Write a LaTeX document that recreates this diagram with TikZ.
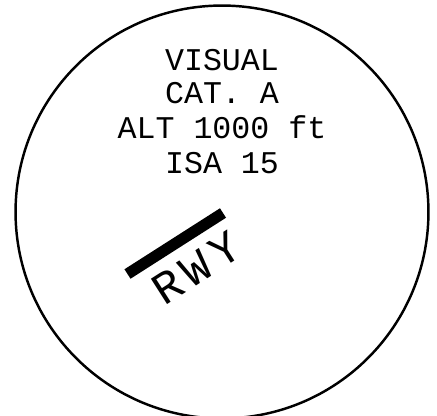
\documentclass[tikz,border=0pt]{standalone}
\usepackage{fontspec}
\setmonofont{Liberation Mono}
\newfontfamily\rwyfont[LetterSpace=14]{Liberation Mono}
\usetikzlibrary{positioning}

\tikzset{
  infotext/.style={font=\ttfamily\fontsize{18}{20}\selectfont, anchor=base, inner sep=0pt},
  rwytext/.style={font=\rwyfont\fontsize{26}{28}\selectfont, inner sep=0pt, rotate=32.6}
}

\begin{document}
\begin{tikzpicture}[x=0.02cm, y=-0.02cm]
  \useasboundingbox[fill=white] (0,0) rectangle (437,416);
  \draw[line width=1.4pt] (222,212) circle[radius=4.13cm];
  % approach data
  \node[infotext] (visual) at (222,70) {VISUAL};
  \node[infotext] (cat) at (222,103.5) {CAT. A};
  \node[infotext] (alt) at (222,138) {ALT 1000 ft};
  \node[infotext] (isa) at (222,173) {ISA 15};
  % runway
  \coordinate (rwyA) at (127.5,274);
  \coordinate (rwyB) at (223,213);
  \draw[line width=6.4pt] (rwyA) -- (rwyB);
  \node[rwytext] (rwy) at (196,268) {RWY};
\end{tikzpicture}
\end{document}
